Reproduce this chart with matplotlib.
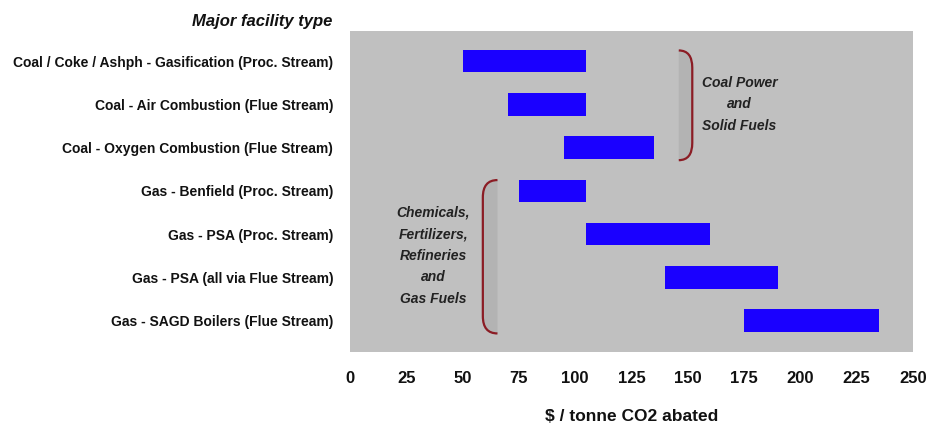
import matplotlib
matplotlib.use("Agg")
import matplotlib.pyplot as plt
from matplotlib.path import Path
from matplotlib.patches import PathPatch

plt.rcParams['font.family'] = ['Liberation Sans', 'DejaVu Sans']

categories = [
    "Coal / Coke / Ashph - Gasification (Proc. Stream)",
    "Coal - Air Combustion (Flue Stream)",
    "Coal - Oxygen Combustion (Flue Stream)",
    "Gas - Benfield (Proc. Stream)",
    "Gas - PSA (Proc. Stream)",
    "Gas - PSA (all via Flue Stream)",
    "Gas - SAGD Boilers (Flue Stream)",
]
low_cost = [50, 70, 95, 75, 105, 140, 175]
high_cost = [105, 105, 135, 105, 160, 190, 235]
x_ticks = [0, 25, 50, 75, 100, 125, 150, 175, 200, 225, 250]

group1_label = ["Coal Power", "and", "Solid Fuels"]
group2_label = ["Chemicals,", "Fertilizers,", "Refineries", "and", "Gas Fuels"]

fig = plt.figure(figsize=(9.32, 4.23), dpi=100)
ax = fig.add_axes([0.3755, 0.1678, 0.6041, 0.7589])
ax.set_facecolor('#C0C0C0')

ypos = list(range(len(categories)))
widths = [h - l for l, h in zip(low_cost, high_cost)]
ax.barh(ypos, widths, left=low_cost, height=0.52, color='#1A00FF', edgecolor='none', zorder=3)

ax.set_xlim(0, 250)
ax.set_ylim(6.73, -0.7)
ax.set_xticks(x_ticks)
ax.set_xticklabels([str(t) for t in x_ticks], fontsize=12, fontweight='bold', color='#111111')
ax.set_yticks(ypos)
ax.set_yticklabels(categories, fontsize=10, fontweight='bold', color='#111111')
ax.tick_params(axis='x', length=0, pad=14)
ax.tick_params(axis='y', length=0, pad=12)
for s in ax.spines.values():
    s.set_visible(False)

fig.text(0.3755 + 0.6041 / 2, 0.016, r"\$ / tonne CO2 abated", ha='center', va='center',
         fontsize=12.5, fontweight='bold', color='#111111')

fig.text(0.357, 0.950, "Major facility type", ha='right', va='center',
         fontsize=12, fontweight='bold', style='italic', color='#111111')


def bracket(ax, x_tip, x_line, ytop, ybot, r):
    verts = [(x_tip, ytop), (x_line, ytop), (x_line, ytop + r),
             (x_line, ybot - r), (x_line, ybot), (x_tip, ybot)]
    codes = [Path.MOVETO, Path.CURVE3, Path.CURVE3, Path.LINETO, Path.CURVE3, Path.CURVE3]
    p = Path(verts, codes)
    fill = PathPatch(Path(verts + [(x_tip, ytop)], codes + [Path.LINETO]),
                     facecolor='#B3B3B3', edgecolor='none', zorder=2)
    ax.add_patch(fill)
    ax.add_patch(PathPatch(p, facecolor='none', edgecolor='#8B1C24', lw=1.6, zorder=4))


bracket(ax, 146, 152, -0.25, 2.29, 0.4)
bracket(ax, 65.5, 59, 2.75, 6.30, 0.4)

for i, t in enumerate(group1_label):
    ax.text(173, 0.5 + i * 0.5, t, ha='center', va='center', fontsize=10,
            fontweight='bold', style='italic', color='#222222', zorder=5)
for i, t in enumerate(group2_label):
    ax.text(37, 3.5 + i * 0.5, t, ha='center', va='center', fontsize=10,
            fontweight='bold', style='italic', color='#222222', zorder=5)

fig.savefig("out.png", dpi=100)
